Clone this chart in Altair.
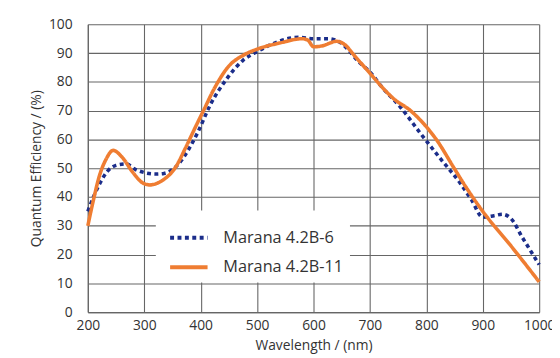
import altair as alt
import pandas as pd

series_names = ["Marana 4.2B-6", "Marana 4.2B-11"]
series_colors = ["#1b2d8a", "#ef7d32"]

# Marana 4.2B-6 (dotted navy)
b6_nm = [200, 210, 222, 235, 250, 268, 285, 300, 320, 335, 350, 365, 380, 395,
         417, 446, 475, 500, 525, 550, 575, 600, 625, 645, 660, 680, 700, 720,
         755, 790, 825, 860, 880, 900, 920, 935, 950, 970, 1000]
b6_qe = [35, 40, 45, 49, 51, 51.5, 49.5, 48.5, 48, 48.2, 49.5, 52.5, 57, 62.5,
         72, 81, 87.5, 90.5, 93, 94.8, 95.5, 95, 95, 94, 91.5, 87, 83.5, 78.5,
         71, 62, 53.3, 44.8, 39, 33, 33.5, 34, 32.5, 26, 16.5]

# Marana 4.2B-11 (solid orange)
b11_nm = [200, 210, 220, 232, 245, 260, 280, 298, 310, 330, 356, 373, 390, 405,
          425, 450, 476, 502, 540, 580, 590, 600, 615, 641, 655, 673, 700, 720,
          743, 772, 796, 819, 848, 870, 900, 950, 1000]
b11_qe = [30, 39, 47, 53, 56.2, 54, 48.5, 44.8, 44.2, 45.5, 50.5, 57, 64, 70,
          78, 85.5, 89.3, 91.5, 93.5, 95, 94.5, 92.2, 92.5, 94.1, 93, 89, 83, 78.5,
          74, 70, 65.3, 59.6, 50.4, 43.5, 35, 23, 10.5]

x_ticks = [200, 300, 400, 500, 600, 700, 800, 900, 1000]
y_ticks = [0, 10, 20, 30, 40, 50, 60, 70, 80, 90, 100]

df = pd.concat([
    pd.DataFrame({"nm": b6_nm, "qe": b6_qe, "series": series_names[0], "order": 0}),
    pd.DataFrame({"nm": b11_nm, "qe": b11_qe, "series": series_names[1], "order": 1}),
])

FONT = "Open Sans"
TXT = "#333333"
GRID = "#666666"

legend_opts = dict(title=None, orient="none", legendX=69, legendY=189,
                   fillColor="white", padding=6.5, symbolOffset=6, symbolType="stroke",
                   symbolSize=1444, symbolStrokeWidth=4,
                   labelFont=FONT, labelFontSize=16.5, labelColor=TXT,
                   labelOffset=14, rowPadding=-24)

chart = alt.Chart(df).mark_line(strokeWidth=3.6, interpolate="monotone", strokeCap="butt").encode(
    x=alt.X("nm:Q", scale=alt.Scale(domain=[200, 1000], nice=False),
            axis=alt.Axis(values=x_ticks, format="d", title="Wavelength / (nm)", labelFlush=False)),
    y=alt.Y("qe:Q", scale=alt.Scale(domain=[0, 100], nice=False),
            axis=alt.Axis(values=y_ticks, format="d", title="Quantum Efficiency / (%)")),
    color=alt.Color("series:N", scale=alt.Scale(domain=series_names, range=series_colors),
                    legend=alt.Legend(**legend_opts)),
    strokeDash=alt.StrokeDash("series:N", scale=alt.Scale(domain=series_names, range=[[4, 3.5], [1, 0]]),
                              legend=alt.Legend(**legend_opts)),
    order=alt.Order("order:Q"),
).properties(
    width=458, height=292,
    autosize=alt.AutoSizeParams(type="none"),
    padding={"left": 81, "top": 14, "right": 13, "bottom": 44},
).configure_axis(
    grid=True, gridColor=GRID, gridWidth=1.1, gridOpacity=1,
    domainColor=GRID, domainWidth=1.2, ticks=False,
    labelFont=FONT, labelFontSize=14, labelColor=TXT,
    titleFont=FONT, titleFontSize=14, titleColor=TXT, titleFontWeight="normal",
).configure_axisY(labelPadding=16, titlePadding=5).configure_axisX(
    labelPadding=7, titlePadding=6
).configure_view(stroke=None)

chart.save("out.html", embed_options={"renderer": "svg", "actions": False})
